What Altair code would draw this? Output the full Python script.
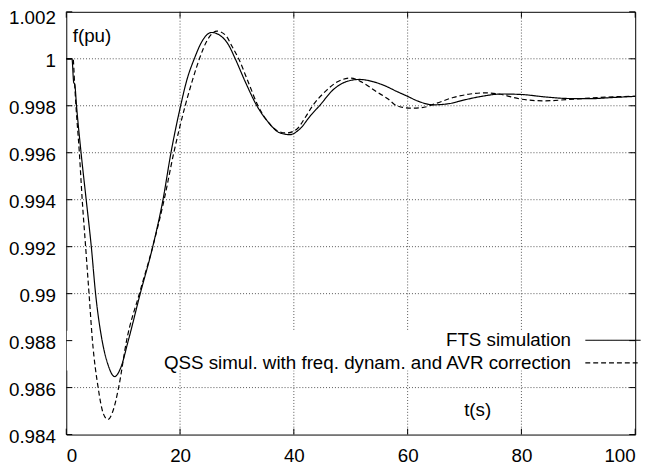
import altair as alt
import pandas as pd

# ---- data ----
fts_label = "FTS simulation"
qss_label = "QSS simul. with freq. dynam. and AVR correction"

fts_t = [0, 1.0, 1.3, 1.5, 1.8, 2.6, 3.5, 4.4, 5.15, 6.3, 7.3, 8.5, 9.5, 10.9, 13.0, 15.2,
         17.0, 18.4, 20.1, 21.2, 22.5, 24, 25.5, 27, 28.5, 29.7, 31.5, 33.5, 35.5, 37.5,
         39.3, 41, 43, 44.5, 47, 49.5, 51.5, 54, 56, 58, 60, 62, 64.5, 67, 70, 73, 76.5, 80,
         84, 88, 92, 96, 100]
fts_f = [1.0, 1.0, 0.9990, 0.9989, 0.9980, 0.9960, 0.9940, 0.9920, 0.9900, 0.9880,
         0.9870, 0.98647, 0.9868, 0.9880, 0.9900, 0.9920, 0.9940, 0.9960, 0.9980, 0.9991,
         1.0000, 1.0008, 1.00112, 1.0010, 1.0006, 1.0000, 0.9990, 0.9980, 0.9973, 0.99685,
         0.99677, 0.9970, 0.9976, 0.9980, 0.9987, 0.99905, 0.99912, 0.99902, 0.99885, 0.99862,
         0.9984, 0.99818, 0.99804, 0.99808, 0.99825, 0.9984, 0.9985, 0.99848, 0.99838, 0.99831,
         0.9983, 0.99835, 0.9984]

qss_t = [0, 1.2, 1.45, 1.7, 2.3, 2.8, 3.4, 4.0, 4.6, 5.6, 6.5, 7.3, 8.2, 9.2, 10.6, 12.85,
         15.2, 17.2, 18.9, 20.9, 22.2, 23.4, 24.8, 26.5, 28, 29.2, 30.3, 32, 33.7, 35.5,
         37, 38.7, 40.5, 42, 43.3, 45.5, 47.5, 50, 52, 54.5, 56.5, 58.1, 60.5, 62.5, 65,
         68, 71, 73.5, 76, 80, 84, 88, 92, 96, 100]
qss_f = [1.0, 1.0, 0.9990, 0.9980, 0.9960, 0.9940, 0.9920, 0.9900, 0.9880, 0.9860,
         0.9849, 0.98464, 0.9850, 0.9860, 0.9880, 0.9900, 0.9920, 0.9940, 0.9960, 0.9980,
         0.9991, 1.0000, 1.0008, 1.00118, 1.0010, 1.0005, 1.0000, 0.9990, 0.9980, 0.9973,
         0.99695, 0.99684, 0.9970, 0.9975, 0.9980, 0.9986, 0.99900, 0.99918, 0.9990, 0.9986,
         0.9983, 0.9980, 0.99790, 0.99792, 0.9981, 0.99835, 0.9985, 0.99855, 0.9985, 0.99828,
         0.99821, 0.99826, 0.99833, 0.99838, 0.9984]

x_ticks = [0, 20, 40, 60, 80, 100]
y_ticks = [0.984, 0.986, 0.988, 0.990, 0.992, 0.994, 0.996, 0.998, 1.000, 1.002]

# key area (blanked like gnuplot's opaque key)
key_t = [0.1, 99.9]
key_f = [0.98673, 0.98842]

FONT = "Liberation Sans"

df = pd.concat([
    pd.DataFrame({"t": fts_t, "f": fts_f, "series": fts_label}),
    pd.DataFrame({"t": qss_t, "f": qss_f, "series": qss_label}),
], ignore_index=True)

xs = alt.Scale(domain=[0, 100], nice=False, zero=False)
ys = alt.Scale(domain=[0.984, 1.002], nice=False, zero=False)

x_axis = alt.Axis(values=x_ticks, labelPadding=12, title="t(s)", titleX=416, titleY=-19,
                  titleAlign="center", titleBaseline="alphabetic", titleAngle=0)
y_axis = alt.Axis(values=y_ticks, format=".3~f", labelPadding=11,
                  labelOffset={"condition": {"test": "datum.value > 1.001", "value": 6}, "value": 2},
                  title="f(pu)", titleX=6, titleY=30, titleAngle=0,
                  titleAlign="left", titleBaseline="alphabetic")

X = lambda f="t": alt.X(f"{f}:Q", scale=xs, axis=x_axis)
Y = lambda f="f": alt.Y(f"{f}:Q", scale=ys, axis=y_axis)

grid_style = dict(color="#555555", strokeWidth=1, strokeDash=[1, 2])

vgrid = alt.Chart(pd.DataFrame({"t": x_ticks[1:-1]})).mark_rule(**grid_style).encode(x=X())
hgrid = alt.Chart(pd.DataFrame({"f": y_ticks[1:-1]})).mark_rule(**grid_style).encode(y=Y())

key_box = alt.Chart(pd.DataFrame({"t": [key_t[0]], "t2": [key_t[1]],
                                  "f": [key_f[0]], "f2": [key_f[1]]})).mark_rect(
    color="white").encode(x=X(), x2="t2:Q", y=Y(), y2="f2:Q")

lines = alt.Chart(df).mark_line(color="black", strokeWidth=1.2, interpolate="monotone").encode(
    x=X(), y=Y(),
    strokeDash=alt.StrokeDash(
        "series:N",
        scale=alt.Scale(domain=[fts_label, qss_label], range=[[1, 0], [5, 3]]),
        legend=alt.Legend(
            title=None, orient="none", legendX=544, legendY=323,
            symbolType="M-8,0H8", symbolSize=49, symbolStrokeWidth=1.2,
            symbolStrokeColor="black", symbolFillColor="transparent",
            labelAlign="right", labelOffset={"expr": "-52"},
            labelFont=FONT, labelFontSize=19, labelColor="black", labelLimit=1000,
            rowPadding=3, padding=0,
        ),
    ),
    order="t:Q",
)

# inward tick marks (gnuplot style)
tx = 1.05
ty = 0.00025
left_ticks = alt.Chart(pd.DataFrame({"f": y_ticks, "t": 0, "t2": tx})).mark_rule(
    color="black", strokeWidth=1).encode(x=X(), x2="t2:Q", y=Y())
right_ticks = alt.Chart(pd.DataFrame({"f": y_ticks, "t": 100 - tx, "t2": 100})).mark_rule(
    color="black", strokeWidth=1).encode(x=X(), x2="t2:Q", y=Y())
bottom_ticks = alt.Chart(pd.DataFrame({"t": x_ticks, "f": 0.984, "f2": 0.984 + ty})).mark_rule(
    color="black", strokeWidth=1).encode(x=X(), y=Y(), y2="f2:Q")
top_ticks = alt.Chart(pd.DataFrame({"t": x_ticks, "f": 1.002 - ty, "f2": 1.002})).mark_rule(
    color="black", strokeWidth=1).encode(x=X(), y=Y(), y2="f2:Q")

chart = alt.layer(vgrid, hgrid, key_box, lines, left_ticks, right_ticks, bottom_ticks, top_ticks).properties(
    width=576, height=428,
    autosize=alt.AutoSizeParams(type="none"),
    padding={"left": 59, "top": 1, "right": 16, "bottom": 31},
    background="white",
).configure_view(
    stroke="black", strokeWidth=1
).configure_axis(
    labelFont=FONT, labelFontSize=19, labelColor="black",
    titleFont=FONT, titleFontSize=19, titleFontWeight="normal", titleColor="black",
    ticks=False, domain=False, grid=False,
)

chart.save("out.html", embed_options={"renderer": "svg", "actions": False})
